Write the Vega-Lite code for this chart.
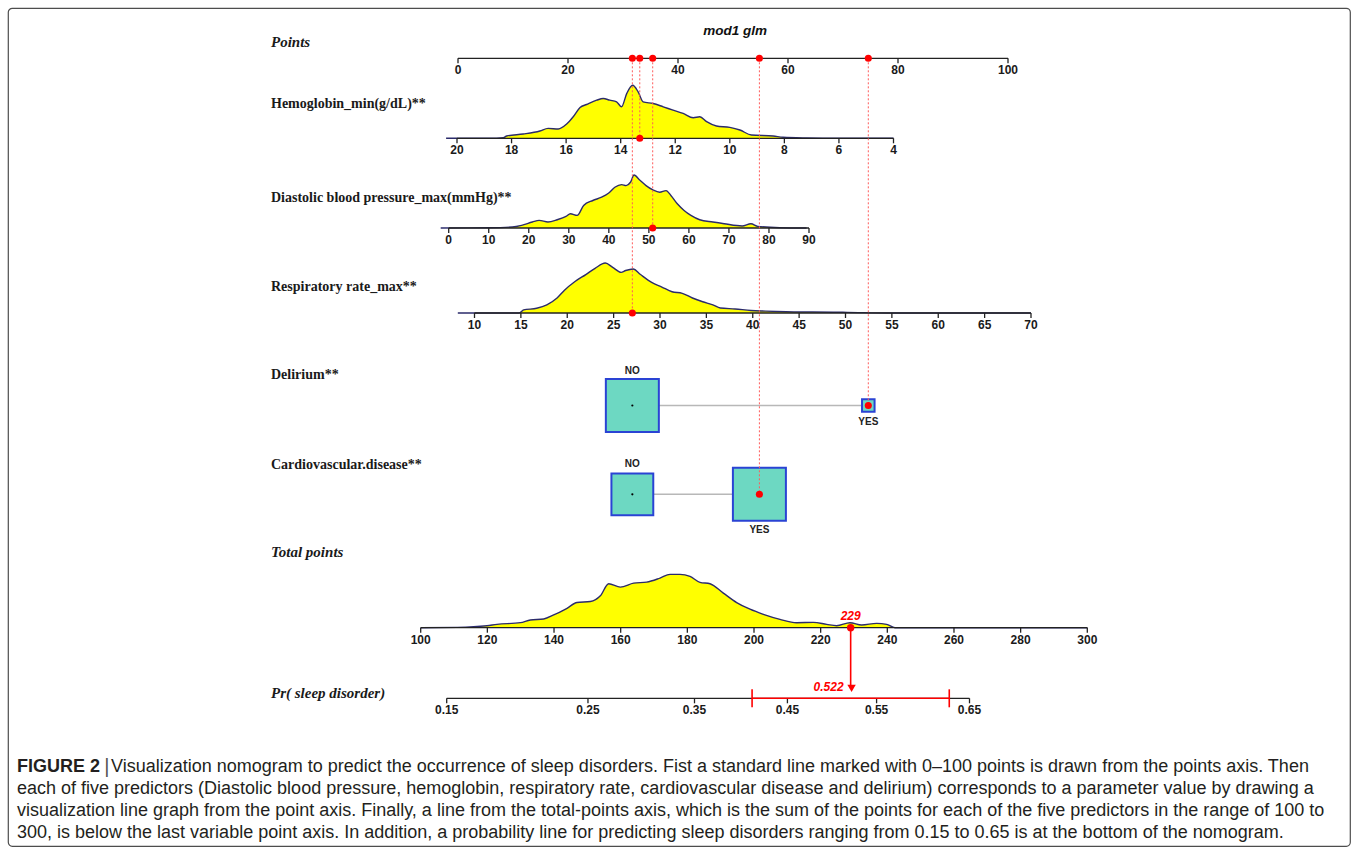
{
"width":1342,"height":838,"autosize":"none",
"padding":{"left":8,"top":8,"right":8,"bottom":9},
"background":"#ffffff",
"config":{"view":{"stroke":"#4d4d4d","strokeWidth":1.2,"cornerRadius":4}},
"datasets":{
"hbDens":[{"v":20.4,"d":0},{"v":18.8,"d":0},{"v":18.3,"d":0.01},{"v":18.18,"d":0.044},{"v":17.57,"d":0.081},{"v":16.96,"d":0.138},{"v":16.66,"d":0.188},{"v":16.29,"d":0.175},{"v":15.98,"d":0.269},{"v":15.74,"d":0.406},{"v":15.49,"d":0.581},{"v":15.25,"d":0.638},{"v":14.88,"d":0.719},{"v":14.64,"d":0.75},{"v":14.4,"d":0.719},{"v":14.15,"d":0.688},{"v":13.97,"d":0.594},{"v":13.78,"d":0.844},{"v":13.56,"d":1},{"v":13.36,"d":0.875},{"v":13.18,"d":0.688},{"v":12.81,"d":0.656},{"v":12.44,"d":0.594},{"v":12.08,"d":0.531},{"v":11.71,"d":0.469},{"v":11.34,"d":0.388},{"v":11.1,"d":0.406},{"v":10.85,"d":0.313},{"v":10.49,"d":0.231},{"v":10,"d":0.206},{"v":9.63,"d":0.156},{"v":9.21,"d":0.063},{"v":8.41,"d":0.044},{"v":8.05,"d":0.019},{"v":7.19,"d":0.006},{"v":6,"d":0},{"v":4,"d":0}],
"dbpDens":[{"v":-2,"d":0},{"v":10,"d":0.005},{"v":15.9,"d":0.019},{"v":18.2,"d":0.05},{"v":20.9,"d":0.113},{"v":22.6,"d":0.144},{"v":24.8,"d":0.113},{"v":27.1,"d":0.156},{"v":29.3,"d":0.219},{"v":30.4,"d":0.269},{"v":32.1,"d":0.238},{"v":33.7,"d":0.425},{"v":36,"d":0.519},{"v":38.2,"d":0.581},{"v":39.9,"d":0.656},{"v":41.5,"d":0.769},{"v":43.2,"d":0.819},{"v":44.3,"d":0.8},{"v":45.4,"d":0.863},{"v":46.3,"d":1},{"v":47.7,"d":0.906},{"v":49.3,"d":0.8},{"v":51,"d":0.719},{"v":52.7,"d":0.675},{"v":54.3,"d":0.706},{"v":55.5,"d":0.613},{"v":57.1,"d":0.456},{"v":58.8,"d":0.331},{"v":60.5,"d":0.238},{"v":62.7,"d":0.156},{"v":66,"d":0.113},{"v":68.8,"d":0.081},{"v":73.3,"d":0.038},{"v":75.5,"d":0.081},{"v":77.2,"d":0.031},{"v":82.7,"d":0.006},{"v":89.4,"d":0}],
"rrDens":[{"v":8.2,"d":0},{"v":14.8,"d":0},{"v":15.3,"d":0.063},{"v":16.7,"d":0.094},{"v":17.8,"d":0.163},{"v":18.9,"d":0.3},{"v":19.7,"d":0.456},{"v":20.8,"d":0.625},{"v":22,"d":0.769},{"v":23,"d":0.894},{"v":24.1,"d":1},{"v":24.9,"d":0.913},{"v":25.8,"d":0.813},{"v":26.3,"d":0.85},{"v":27.1,"d":0.881},{"v":27.9,"d":0.769},{"v":29.1,"d":0.613},{"v":30.2,"d":0.519},{"v":31.3,"d":0.425},{"v":32.4,"d":0.394},{"v":33.5,"d":0.3},{"v":34.6,"d":0.225},{"v":35.7,"d":0.163},{"v":36.5,"d":0.1},{"v":38.1,"d":0.081},{"v":39.8,"d":0.05},{"v":41.4,"d":0.038},{"v":43.6,"d":0.025},{"v":46.4,"d":0.019},{"v":50.2,"d":0.013},{"v":54.6,"d":0},{"v":70,"d":0}],
"totDens":[{"v":100,"d":0},{"v":111,"d":0.006},{"v":119.9,"d":0.037},{"v":122.9,"d":0.062},{"v":129.9,"d":0.093},{"v":132.9,"d":0.143},{"v":136.9,"d":0.161},{"v":139.9,"d":0.236},{"v":143.9,"d":0.36},{"v":146.9,"d":0.466},{"v":150.9,"d":0.484},{"v":153.9,"d":0.59},{"v":156.4,"d":0.814},{"v":159.9,"d":0.752},{"v":163.9,"d":0.826},{"v":167.8,"d":0.845},{"v":171.8,"d":0.919},{"v":174.8,"d":0.988},{"v":177.8,"d":0.988},{"v":180.8,"d":0.95},{"v":183.8,"d":0.839},{"v":186.8,"d":0.814},{"v":190.8,"d":0.64},{"v":194.8,"d":0.466},{"v":198.8,"d":0.342},{"v":202.8,"d":0.248},{"v":207.8,"d":0.155},{"v":212.8,"d":0.093},{"v":217.8,"d":0.099},{"v":221.8,"d":0.062},{"v":224.8,"d":0.037},{"v":228.8,"d":0.093},{"v":232.3,"d":0.05},{"v":236.8,"d":0.081},{"v":239.8,"d":0.062},{"v":242.3,"d":0},{"v":300,"d":0}],
"ticks":[
{"axis":"pts","v":0,"t":"0"},{"axis":"pts","v":20,"t":"20"},{"axis":"pts","v":40,"t":"40"},{"axis":"pts","v":60,"t":"60"},{"axis":"pts","v":80,"t":"80"},{"axis":"pts","v":100,"t":"100"},
{"axis":"hb","v":20,"t":"20"},{"axis":"hb","v":18,"t":"18"},{"axis":"hb","v":16,"t":"16"},{"axis":"hb","v":14,"t":"14"},{"axis":"hb","v":12,"t":"12"},{"axis":"hb","v":10,"t":"10"},{"axis":"hb","v":8,"t":"8"},{"axis":"hb","v":6,"t":"6"},{"axis":"hb","v":4,"t":"4"},
{"axis":"dbp","v":0,"t":"0"},{"axis":"dbp","v":10,"t":"10"},{"axis":"dbp","v":20,"t":"20"},{"axis":"dbp","v":30,"t":"30"},{"axis":"dbp","v":40,"t":"40"},{"axis":"dbp","v":50,"t":"50"},{"axis":"dbp","v":60,"t":"60"},{"axis":"dbp","v":70,"t":"70"},{"axis":"dbp","v":80,"t":"80"},{"axis":"dbp","v":90,"t":"90"},
{"axis":"rr","v":10,"t":"10"},{"axis":"rr","v":15,"t":"15"},{"axis":"rr","v":20,"t":"20"},{"axis":"rr","v":25,"t":"25"},{"axis":"rr","v":30,"t":"30"},{"axis":"rr","v":35,"t":"35"},{"axis":"rr","v":40,"t":"40"},{"axis":"rr","v":45,"t":"45"},{"axis":"rr","v":50,"t":"50"},{"axis":"rr","v":55,"t":"55"},{"axis":"rr","v":60,"t":"60"},{"axis":"rr","v":65,"t":"65"},{"axis":"rr","v":70,"t":"70"},
{"axis":"tot","v":100,"t":"100"},{"axis":"tot","v":120,"t":"120"},{"axis":"tot","v":140,"t":"140"},{"axis":"tot","v":160,"t":"160"},{"axis":"tot","v":180,"t":"180"},{"axis":"tot","v":200,"t":"200"},{"axis":"tot","v":220,"t":"220"},{"axis":"tot","v":240,"t":"240"},{"axis":"tot","v":260,"t":"260"},{"axis":"tot","v":280,"t":"280"},{"axis":"tot","v":300,"t":"300"},
{"axis":"prob","v":-1.7346,"t":"0.15"},{"axis":"prob","v":-1.0986,"t":"0.25"},{"axis":"prob","v":-0.619,"t":"0.35"},{"axis":"prob","v":-0.2007,"t":"0.45"},{"axis":"prob","v":0.2007,"t":"0.55"},{"axis":"prob","v":0.619,"t":"0.65"}],
"axlines":[{"axis":"pts","v":0,"v2":100},{"axis":"hb","v":20,"v2":4},{"axis":"dbp","v":0,"v2":90},{"axis":"rr","v":10,"v2":70},{"axis":"tot","v":100,"v2":300},{"axis":"prob","v":-1.7346,"v2":0.619}],
"selected":[{"var":"Respiratory rate_max","value":"27","pts":31.7,"top":0,"row":3},{"var":"Hemoglobin_min","value":"13.3","pts":33.05,"top":0,"row":1},{"var":"Diastolic blood pressure_max","value":"51","pts":35.4,"top":0,"row":2},{"var":"Cardiovascular.disease","value":"YES","pts":54.8,"top":0,"row":5},{"var":"Delirium","value":"YES","pts":74.6,"top":0,"row":4}],
"categories":[{"var":"Delirium","level":"NO","pts":31.7,"row":4,"prop":0.947},{"var":"Delirium","level":"YES","pts":74.6,"row":4,"prop":0.053},{"var":"CVD","level":"NO","pts":31.7,"row":5,"prop":0.384},{"var":"CVD","level":"YES","pts":54.8,"row":5,"prop":0.616}],
"catlinks":[{"var":"Delirium","pts":31.7,"pts2":74.6,"row":4},{"var":"CVD","pts":31.7,"pts2":54.8,"row":5}],
"labels":[{"row":0,"t":"Points","s":"i"},{"row":1,"t":"Hemoglobin_min(g/dL)**","s":"b"},{"row":2,"t":"Diastolic blood pressure_max(mmHg)**","s":"b"},{"row":3,"t":"Respiratory rate_max**","s":"b"},{"row":4,"t":"Delirium**","s":"b"},{"row":5,"t":"Cardiovascular.disease**","s":"b"},{"row":6,"t":"Total points","s":"i"},{"row":7,"t":"Pr( sleep disorder)","s":"i"}],
"result":[{"total":229,"p":0.522,"logit":0.0881,"lo":-0.3598,"hi":0.5279,"from":6,"to":7}],
"ciEnds":[{"v":-0.3598,"row":7},{"v":0.5279,"row":7}],
"caption":[{"line":0,"k":"bold","t":"FIGURE 2"},{"line":0,"k":"bar","t":"|"},{"line":0,"k":"first","t":"Visualization nomogram to predict the occurrence of sleep disorders. Fist a standard line marked with 0–100 points is drawn from the points axis. Then"},{"line":1,"k":"body","t":"each of five predictors (Diastolic blood pressure, hemoglobin, respiratory rate, cardiovascular disease and delirium) corresponds to a parameter value by drawing a"},{"line":2,"k":"body","t":"visualization line graph from the point axis. Finally, a line from the total-points axis, which is the sum of the points for each of the five predictors in the range of 100 to"},{"line":3,"k":"body","t":"300, is below the last variable point axis. In addition, a probability line for predicting sleep disorders ranging from 0.15 to 0.65 is at the bottom of the nomogram."}]
},
"resolve":{"scale":{"x":"independent","y":"independent","size":"independent"}},
"layer":[
{"data":{"name":"hbDens"},
 "layer":[
  {"mark":{"type":"area","color":"#FFFF00","opacity":1,"interpolate":"monotone"},"encoding":{"x":{"field":"v","type":"quantitative","scale":{"domain":[20,4],"range":[449,885.5]},"axis":null},"y":{"field":"d","type":"quantitative","stack":null,"scale":{"domain":[0,1],"range":[130.3,77.3]},"axis":null}}},
  {"mark":{"type":"line","color":"#2B2B6B","strokeWidth":1.4,"interpolate":"monotone"},"encoding":{"x":{"field":"v","type":"quantitative","scale":{"domain":[20,4],"range":[449,885.5]},"axis":null},"y":{"field":"d","type":"quantitative","scale":{"domain":[0,1],"range":[130.3,77.3]},"axis":null}}}]},
{"data":{"name":"dbpDens"},
 "layer":[
  {"mark":{"type":"area","color":"#FFFF00","opacity":1,"interpolate":"monotone"},"encoding":{"x":{"field":"v","type":"quantitative","scale":{"domain":[0,90],"range":[440.7,801]},"axis":null},"y":{"field":"d","type":"quantitative","stack":null,"scale":{"domain":[0,1],"range":[220,167]},"axis":null}}},
  {"mark":{"type":"line","color":"#2B2B6B","strokeWidth":1.4,"interpolate":"monotone"},"encoding":{"x":{"field":"v","type":"quantitative","scale":{"domain":[0,90],"range":[440.7,801]},"axis":null},"y":{"field":"d","type":"quantitative","scale":{"domain":[0,1],"range":[220,167]},"axis":null}}}]},
{"data":{"name":"rrDens"},
 "layer":[
  {"mark":{"type":"area","color":"#FFFF00","opacity":1,"interpolate":"monotone"},"encoding":{"x":{"field":"v","type":"quantitative","scale":{"domain":[10,70],"range":[466.5,1023]},"axis":null},"y":{"field":"d","type":"quantitative","stack":null,"scale":{"domain":[0,1],"range":[305,255]},"axis":null}}},
  {"mark":{"type":"line","color":"#2B2B6B","strokeWidth":1.4,"interpolate":"monotone"},"encoding":{"x":{"field":"v","type":"quantitative","scale":{"domain":[10,70],"range":[466.5,1023]},"axis":null},"y":{"field":"d","type":"quantitative","scale":{"domain":[0,1],"range":[305,255]},"axis":null}}}]},
{"data":{"name":"totDens"},
 "layer":[
  {"mark":{"type":"area","color":"#FFFF00","opacity":1,"interpolate":"monotone"},"encoding":{"x":{"field":"v","type":"quantitative","scale":{"domain":[100,300],"range":[412.7,1079.3]},"axis":null},"y":{"field":"d","type":"quantitative","stack":null,"scale":{"domain":[0,1],"range":[619.7,565.7]},"axis":null}}},
  {"mark":{"type":"line","color":"#2B2B6B","strokeWidth":1.4,"interpolate":"monotone"},"encoding":{"x":{"field":"v","type":"quantitative","scale":{"domain":[100,300],"range":[412.7,1079.3]},"axis":null},"y":{"field":"d","type":"quantitative","scale":{"domain":[0,1],"range":[619.7,565.7]},"axis":null}}}]},

{"data":{"name":"ticks"},"transform":[{"filter":"datum.axis==='pts'"}],
 "layer":[
  {"data":{"name":"axlines"},"transform":[{"filter":"datum.axis==='pts'"}],"mark":{"type":"rule","color":"#222222","strokeWidth":1.3},"encoding":{"x":{"field":"v","type":"quantitative","scale":{"domain":[0,100],"range":[450,1000]},"axis":null},"x2":{"field":"v2"},"y":{"datum":0,"type":"quantitative","scale":{"domain":[0,1,2,3,4,5,6,7],"range":[50.3,130.3,220,305,397.5,486.3,619.7,690.3]},"axis":null}}},
  {"mark":{"type":"tick","orient":"vertical","color":"#222222","thickness":1.3,"size":5,"yOffset":2.5,"opacity":1},"encoding":{"x":{"field":"v","type":"quantitative","scale":{"domain":[0,100],"range":[450,1000]},"axis":null},"y":{"datum":0,"type":"quantitative","scale":{"domain":[0,1,2,3,4,5,6,7],"range":[50.3,130.3,220,305,397.5,486.3,619.7,690.3]},"axis":null}}},
  {"mark":{"type":"text","font":"Liberation Sans","fontWeight":"bold","fontSize":12,"color":"#1a1a1a","dy":12,"baseline":"middle","align":"center"},"encoding":{"x":{"field":"v","type":"quantitative","scale":{"domain":[0,100],"range":[450,1000]},"axis":null},"y":{"datum":0,"type":"quantitative","scale":{"domain":[0,1,2,3,4,5,6,7],"range":[50.3,130.3,220,305,397.5,486.3,619.7,690.3]},"axis":null},"text":{"field":"t","type":"nominal"}}}
 ]},
{"data":{"name":"ticks"},"transform":[{"filter":"datum.axis==='hb'"}],
 "layer":[
  {"data":{"name":"axlines"},"transform":[{"filter":"datum.axis==='hb'"}],"mark":{"type":"rule","color":"#222222","strokeWidth":1.3},"encoding":{"x":{"field":"v","type":"quantitative","scale":{"domain":[20,4],"range":[449,885.5]},"axis":null},"x2":{"field":"v2"},"y":{"datum":1,"type":"quantitative","scale":{"domain":[0,1,2,3,4,5,6,7],"range":[50.3,130.3,220,305,397.5,486.3,619.7,690.3]},"axis":null}}},
  {"mark":{"type":"tick","orient":"vertical","color":"#222222","thickness":1.3,"size":5,"yOffset":2.5,"opacity":1},"encoding":{"x":{"field":"v","type":"quantitative","scale":{"domain":[20,4],"range":[449,885.5]},"axis":null},"y":{"datum":1,"type":"quantitative","scale":{"domain":[0,1,2,3,4,5,6,7],"range":[50.3,130.3,220,305,397.5,486.3,619.7,690.3]},"axis":null}}},
  {"mark":{"type":"text","font":"Liberation Sans","fontWeight":"bold","fontSize":12,"color":"#1a1a1a","dy":12,"baseline":"middle","align":"center"},"encoding":{"x":{"field":"v","type":"quantitative","scale":{"domain":[20,4],"range":[449,885.5]},"axis":null},"y":{"datum":1,"type":"quantitative","scale":{"domain":[0,1,2,3,4,5,6,7],"range":[50.3,130.3,220,305,397.5,486.3,619.7,690.3]},"axis":null},"text":{"field":"t","type":"nominal"}}}
 ]},
{"data":{"name":"ticks"},"transform":[{"filter":"datum.axis==='dbp'"}],
 "layer":[
  {"data":{"name":"axlines"},"transform":[{"filter":"datum.axis==='dbp'"}],"mark":{"type":"rule","color":"#222222","strokeWidth":1.3},"encoding":{"x":{"field":"v","type":"quantitative","scale":{"domain":[0,90],"range":[440.7,801]},"axis":null},"x2":{"field":"v2"},"y":{"datum":2,"type":"quantitative","scale":{"domain":[0,1,2,3,4,5,6,7],"range":[50.3,130.3,220,305,397.5,486.3,619.7,690.3]},"axis":null}}},
  {"mark":{"type":"tick","orient":"vertical","color":"#222222","thickness":1.3,"size":5,"yOffset":2.5,"opacity":1},"encoding":{"x":{"field":"v","type":"quantitative","scale":{"domain":[0,90],"range":[440.7,801]},"axis":null},"y":{"datum":2,"type":"quantitative","scale":{"domain":[0,1,2,3,4,5,6,7],"range":[50.3,130.3,220,305,397.5,486.3,619.7,690.3]},"axis":null}}},
  {"mark":{"type":"text","font":"Liberation Sans","fontWeight":"bold","fontSize":12,"color":"#1a1a1a","dy":12,"baseline":"middle","align":"center"},"encoding":{"x":{"field":"v","type":"quantitative","scale":{"domain":[0,90],"range":[440.7,801]},"axis":null},"y":{"datum":2,"type":"quantitative","scale":{"domain":[0,1,2,3,4,5,6,7],"range":[50.3,130.3,220,305,397.5,486.3,619.7,690.3]},"axis":null},"text":{"field":"t","type":"nominal"}}}
 ]},
{"data":{"name":"ticks"},"transform":[{"filter":"datum.axis==='rr'"}],
 "layer":[
  {"data":{"name":"axlines"},"transform":[{"filter":"datum.axis==='rr'"}],"mark":{"type":"rule","color":"#222222","strokeWidth":1.3},"encoding":{"x":{"field":"v","type":"quantitative","scale":{"domain":[10,70],"range":[466.5,1023]},"axis":null},"x2":{"field":"v2"},"y":{"datum":3,"type":"quantitative","scale":{"domain":[0,1,2,3,4,5,6,7],"range":[50.3,130.3,220,305,397.5,486.3,619.7,690.3]},"axis":null}}},
  {"mark":{"type":"tick","orient":"vertical","color":"#222222","thickness":1.3,"size":5,"yOffset":2.5,"opacity":1},"encoding":{"x":{"field":"v","type":"quantitative","scale":{"domain":[10,70],"range":[466.5,1023]},"axis":null},"y":{"datum":3,"type":"quantitative","scale":{"domain":[0,1,2,3,4,5,6,7],"range":[50.3,130.3,220,305,397.5,486.3,619.7,690.3]},"axis":null}}},
  {"mark":{"type":"text","font":"Liberation Sans","fontWeight":"bold","fontSize":12,"color":"#1a1a1a","dy":12,"baseline":"middle","align":"center"},"encoding":{"x":{"field":"v","type":"quantitative","scale":{"domain":[10,70],"range":[466.5,1023]},"axis":null},"y":{"datum":3,"type":"quantitative","scale":{"domain":[0,1,2,3,4,5,6,7],"range":[50.3,130.3,220,305,397.5,486.3,619.7,690.3]},"axis":null},"text":{"field":"t","type":"nominal"}}}
 ]},
{"data":{"name":"ticks"},"transform":[{"filter":"datum.axis==='tot'"}],
 "layer":[
  {"data":{"name":"axlines"},"transform":[{"filter":"datum.axis==='tot'"}],"mark":{"type":"rule","color":"#222222","strokeWidth":1.3},"encoding":{"x":{"field":"v","type":"quantitative","scale":{"domain":[100,300],"range":[412.7,1079.3]},"axis":null},"x2":{"field":"v2"},"y":{"datum":6,"type":"quantitative","scale":{"domain":[0,1,2,3,4,5,6,7],"range":[50.3,130.3,220,305,397.5,486.3,619.7,690.3]},"axis":null}}},
  {"mark":{"type":"tick","orient":"vertical","color":"#222222","thickness":1.3,"size":5,"yOffset":2.5,"opacity":1},"encoding":{"x":{"field":"v","type":"quantitative","scale":{"domain":[100,300],"range":[412.7,1079.3]},"axis":null},"y":{"datum":6,"type":"quantitative","scale":{"domain":[0,1,2,3,4,5,6,7],"range":[50.3,130.3,220,305,397.5,486.3,619.7,690.3]},"axis":null}}},
  {"mark":{"type":"text","font":"Liberation Sans","fontWeight":"bold","fontSize":12,"color":"#1a1a1a","dy":12,"baseline":"middle","align":"center"},"encoding":{"x":{"field":"v","type":"quantitative","scale":{"domain":[100,300],"range":[412.7,1079.3]},"axis":null},"y":{"datum":6,"type":"quantitative","scale":{"domain":[0,1,2,3,4,5,6,7],"range":[50.3,130.3,220,305,397.5,486.3,619.7,690.3]},"axis":null},"text":{"field":"t","type":"nominal"}}}
 ]},
{"data":{"name":"ticks"},"transform":[{"filter":"datum.axis==='prob'"}],
 "layer":[
  {"data":{"name":"axlines"},"transform":[{"filter":"datum.axis==='prob'"}],"mark":{"type":"rule","color":"#222222","strokeWidth":1.3},"encoding":{"x":{"field":"v","type":"quantitative","scale":{"domain":[-1.7346,0.619],"range":[438.7,961.5]},"axis":null},"x2":{"field":"v2"},"y":{"datum":7,"type":"quantitative","scale":{"domain":[0,1,2,3,4,5,6,7],"range":[50.3,130.3,220,305,397.5,486.3,619.7,690.3]},"axis":null}}},
  {"mark":{"type":"tick","orient":"vertical","color":"#222222","thickness":1.3,"size":5,"yOffset":2.5,"opacity":1},"encoding":{"x":{"field":"v","type":"quantitative","scale":{"domain":[-1.7346,0.619],"range":[438.7,961.5]},"axis":null},"y":{"datum":7,"type":"quantitative","scale":{"domain":[0,1,2,3,4,5,6,7],"range":[50.3,130.3,220,305,397.5,486.3,619.7,690.3]},"axis":null}}},
  {"mark":{"type":"text","font":"Liberation Sans","fontWeight":"bold","fontSize":12,"color":"#1a1a1a","dy":12,"baseline":"middle","align":"center"},"encoding":{"x":{"field":"v","type":"quantitative","scale":{"domain":[-1.7346,0.619],"range":[438.7,961.5]},"axis":null},"y":{"datum":7,"type":"quantitative","scale":{"domain":[0,1,2,3,4,5,6,7],"range":[50.3,130.3,220,305,397.5,486.3,619.7,690.3]},"axis":null},"text":{"field":"t","type":"nominal"}}}
 ]},

{"data":{"name":"categories"},
 "resolve":{"scale":{"size":"independent"}},
 "layer":[
  {"data":{"name":"catlinks"},"mark":{"type":"rule","color":"#B8B8B8","strokeWidth":1.5},"encoding":{"x":{"field":"pts","type":"quantitative","scale":{"domain":[0,100],"range":[450,1000]},"axis":null},"x2":{"field":"pts2"},"y":{"field":"row","type":"quantitative","scale":{"domain":[0,1,2,3,4,5,6,7],"range":[50.3,130.3,220,305,397.5,486.3,619.7,690.3]},"axis":null}}},
  {"transform":[{"filter":"datum.var==='Delirium'"}],"mark":{"type":"square","filled":true,"fill":"#6DD8C2","stroke":"#2A43D4","strokeWidth":2,"opacity":1},"encoding":{"x":{"field":"pts","type":"quantitative","scale":{"domain":[0,100],"range":[450,1000]},"axis":null},"y":{"field":"row","type":"quantitative","scale":{"domain":[0,1,2,3,4,5,6,7],"range":[50.3,130.3,220,305,397.5,486.3,619.7,690.3]},"axis":null},"size":{"field":"prop","type":"quantitative","scale":{"domain":[0,0.947],"range":[0,2809]},"legend":null}}},
  {"transform":[{"filter":"datum.var==='CVD'"}],"mark":{"type":"square","filled":true,"fill":"#6DD8C2","stroke":"#2A43D4","strokeWidth":2,"opacity":1},"encoding":{"x":{"field":"pts","type":"quantitative","scale":{"domain":[0,100],"range":[450,1000]},"axis":null},"y":{"field":"row","type":"quantitative","scale":{"domain":[0,1,2,3,4,5,6,7],"range":[50.3,130.3,220,305,397.5,486.3,619.7,690.3]},"axis":null},"size":{"field":"prop","type":"quantitative","scale":{"domain":[0,0.616],"range":[0,2809]},"legend":null}}},
  {"transform":[{"filter":"datum.level==='NO'"}],"mark":{"type":"point","filled":true,"color":"#000000","size":5,"opacity":1},"encoding":{"x":{"field":"pts","type":"quantitative","scale":{"domain":[0,100],"range":[450,1000]},"axis":null},"y":{"field":"row","type":"quantitative","scale":{"domain":[0,1,2,3,4,5,6,7],"range":[50.3,130.3,220,305,397.5,486.3,619.7,690.3]},"axis":null}}},
  {"transform":[{"filter":"datum.var==='Delirium' && datum.level==='NO'"}],"mark":{"type":"text","font":"Liberation Sans","fontWeight":"bold","fontSize":10,"color":"#222222","dy":-35,"baseline":"middle"},"encoding":{"x":{"field":"pts","type":"quantitative","scale":{"domain":[0,100],"range":[450,1000]},"axis":null},"y":{"field":"row","type":"quantitative","scale":{"domain":[0,1,2,3,4,5,6,7],"range":[50.3,130.3,220,305,397.5,486.3,619.7,690.3]},"axis":null},"text":{"field":"level","type":"nominal"}}},
  {"transform":[{"filter":"datum.var==='Delirium' && datum.level==='YES'"}],"mark":{"type":"text","font":"Liberation Sans","fontWeight":"bold","fontSize":10,"color":"#222222","dy":16,"baseline":"middle"},"encoding":{"x":{"field":"pts","type":"quantitative","scale":{"domain":[0,100],"range":[450,1000]},"axis":null},"y":{"field":"row","type":"quantitative","scale":{"domain":[0,1,2,3,4,5,6,7],"range":[50.3,130.3,220,305,397.5,486.3,619.7,690.3]},"axis":null},"text":{"field":"level","type":"nominal"}}},
  {"transform":[{"filter":"datum.var==='CVD' && datum.level==='NO'"}],"mark":{"type":"text","font":"Liberation Sans","fontWeight":"bold","fontSize":10,"color":"#222222","dy":-30,"baseline":"middle"},"encoding":{"x":{"field":"pts","type":"quantitative","scale":{"domain":[0,100],"range":[450,1000]},"axis":null},"y":{"field":"row","type":"quantitative","scale":{"domain":[0,1,2,3,4,5,6,7],"range":[50.3,130.3,220,305,397.5,486.3,619.7,690.3]},"axis":null},"text":{"field":"level","type":"nominal"}}},
  {"transform":[{"filter":"datum.var==='CVD' && datum.level==='YES'"}],"mark":{"type":"text","font":"Liberation Sans","fontWeight":"bold","fontSize":10,"color":"#222222","dy":36,"baseline":"middle"},"encoding":{"x":{"field":"pts","type":"quantitative","scale":{"domain":[0,100],"range":[450,1000]},"axis":null},"y":{"field":"row","type":"quantitative","scale":{"domain":[0,1,2,3,4,5,6,7],"range":[50.3,130.3,220,305,397.5,486.3,619.7,690.3]},"axis":null},"text":{"field":"level","type":"nominal"}}}
 ]},

{"data":{"name":"selected"},
 "layer":[
  {"mark":{"type":"rule","color":"#FF5A5A","strokeWidth":1,"strokeDash":[2,2]},"encoding":{"x":{"field":"pts","type":"quantitative","scale":{"domain":[0,100],"range":[450,1000]},"axis":null},"y":{"field":"top","type":"quantitative","scale":{"domain":[0,1,2,3,4,5,6,7],"range":[50.3,130.3,220,305,397.5,486.3,619.7,690.3]},"axis":null},"y2":{"field":"row"}}},
  {"mark":{"type":"point","filled":true,"color":"#FF0000","size":50,"opacity":1},"encoding":{"x":{"field":"pts","type":"quantitative","scale":{"domain":[0,100],"range":[450,1000]},"axis":null},"y":{"field":"top","type":"quantitative","scale":{"domain":[0,1,2,3,4,5,6,7],"range":[50.3,130.3,220,305,397.5,486.3,619.7,690.3]},"axis":null}}},
  {"mark":{"type":"point","filled":true,"color":"#FF0000","size":50,"opacity":1},"encoding":{"x":{"field":"pts","type":"quantitative","scale":{"domain":[0,100],"range":[450,1000]},"axis":null},"y":{"field":"row","type":"quantitative","scale":{"domain":[0,1,2,3,4,5,6,7],"range":[50.3,130.3,220,305,397.5,486.3,619.7,690.3]},"axis":null}}},
  {"data":{"values":[{"t":"mod1 glm","row":0}]},"mark":{"type":"text","font":"Liberation Sans","fontWeight":"bold","fontStyle":"italic","fontSize":13.5,"color":"#111111","dy":-27,"baseline":"middle","align":"center"},"encoding":{"x":{"datum":50.4,"type":"quantitative","scale":{"domain":[0,100],"range":[450,1000]},"axis":null},"y":{"field":"row","type":"quantitative","scale":{"domain":[0,1,2,3,4,5,6,7],"range":[50.3,130.3,220,305,397.5,486.3,619.7,690.3]},"axis":null},"text":{"field":"t","type":"nominal"}}}
 ]},

{"data":{"name":"result"},
 "layer":[
  {"mark":{"type":"rule","color":"#FF0000","strokeWidth":1.6,"y2Offset":-13},"encoding":{"x":{"field":"total","type":"quantitative","scale":{"domain":[100,300],"range":[412.7,1079.3]},"axis":null},"y":{"field":"from","type":"quantitative","scale":{"domain":[0,1,2,3,4,5,6,7],"range":[50.3,130.3,220,305,397.5,486.3,619.7,690.3]},"axis":null},"y2":{"field":"to"}}},
  {"mark":{"type":"point","filled":true,"color":"#FF0000","size":55,"opacity":1},"encoding":{"x":{"field":"total","type":"quantitative","scale":{"domain":[100,300],"range":[412.7,1079.3]},"axis":null},"y":{"field":"from","type":"quantitative","scale":{"domain":[0,1,2,3,4,5,6,7],"range":[50.3,130.3,220,305,397.5,486.3,619.7,690.3]},"axis":null}}},
  {"mark":{"type":"text","font":"Liberation Sans","fontWeight":"bold","fontStyle":"italic","fontSize":12,"color":"#FF0000","dy":-12,"baseline":"middle","align":"center"},"encoding":{"x":{"field":"total","type":"quantitative","scale":{"domain":[100,300],"range":[412.7,1079.3]},"axis":null},"y":{"field":"from","type":"quantitative","scale":{"domain":[0,1,2,3,4,5,6,7],"range":[50.3,130.3,220,305,397.5,486.3,619.7,690.3]},"axis":null},"text":{"field":"total","type":"nominal"}}}
 ]},

{"data":{"name":"result"},
 "layer":[
  {"mark":{"type":"rule","color":"#FF0000","strokeWidth":1.6},"encoding":{"x":{"field":"lo","type":"quantitative","scale":{"domain":[-1.7346,0.619],"range":[438.7,961.5]},"axis":null},"x2":{"field":"hi"},"y":{"field":"to","type":"quantitative","scale":{"domain":[0,1,2,3,4,5,6,7],"range":[50.3,130.3,220,305,397.5,486.3,619.7,690.3]},"axis":null}}},
  {"data":{"name":"ciEnds"},"mark":{"type":"tick","orient":"vertical","color":"#FF0000","thickness":1.6,"size":18,"opacity":1},"encoding":{"x":{"field":"v","type":"quantitative","scale":{"domain":[-1.7346,0.619],"range":[438.7,961.5]},"axis":null},"y":{"field":"row","type":"quantitative","scale":{"domain":[0,1,2,3,4,5,6,7],"range":[50.3,130.3,220,305,397.5,486.3,619.7,690.3]},"axis":null}}},
  {"mark":{"type":"point","shape":"triangle-down","filled":true,"color":"#FF0000","size":70,"opacity":1,"yOffset":-10},"encoding":{"x":{"field":"logit","type":"quantitative","scale":{"domain":[-1.7346,0.619],"range":[438.7,961.5]},"axis":null},"y":{"field":"to","type":"quantitative","scale":{"domain":[0,1,2,3,4,5,6,7],"range":[50.3,130.3,220,305,397.5,486.3,619.7,690.3]},"axis":null}}},
  {"mark":{"type":"text","font":"Liberation Sans","fontWeight":"bold","fontStyle":"italic","fontSize":12,"color":"#FF0000","dx":-8,"dy":-11,"baseline":"middle","align":"right"},"encoding":{"x":{"field":"logit","type":"quantitative","scale":{"domain":[-1.7346,0.619],"range":[438.7,961.5]},"axis":null},"y":{"field":"to","type":"quantitative","scale":{"domain":[0,1,2,3,4,5,6,7],"range":[50.3,130.3,220,305,397.5,486.3,619.7,690.3]},"axis":null},"text":{"field":"p","type":"nominal"}}}
 ]},

{"data":{"name":"labels"},
 "layer":[
  {"transform":[{"filter":"datum.s==='b'"}],"mark":{"type":"text","font":"Liberation Serif","fontWeight":"bold","fontSize":14,"color":"#1a1a1a","align":"left","baseline":"middle"},"encoding":{"x":{"datum":-34,"type":"quantitative","scale":{"domain":[0,100],"range":[450,1000]},"axis":null},"y":{"field":"row","type":"quantitative","scale":{"domain":[0,1,2,3,4,5,6,7],"range":[34.3,96,190.3,279,367,457,544,685]},"axis":null},"text":{"field":"t","type":"nominal"}}},
  {"transform":[{"filter":"datum.s==='i'"}],"mark":{"type":"text","font":"Liberation Serif","fontWeight":"bold","fontStyle":"italic","fontSize":15,"color":"#1a1a1a","align":"left","baseline":"middle"},"encoding":{"x":{"datum":-34,"type":"quantitative","scale":{"domain":[0,100],"range":[450,1000]},"axis":null},"y":{"field":"row","type":"quantitative","scale":{"domain":[0,1,2,3,4,5,6,7],"range":[34.3,96,190.3,279,367,457,544,685]},"axis":null},"text":{"field":"t","type":"nominal"}}}
 ]},

{"data":{"name":"caption"},
 "layer":[
  {"transform":[{"filter":"datum.k==='bold'"}],"mark":{"type":"text","font":"Liberation Sans","fontWeight":"bold","fontSize":18,"color":"#231F20","align":"left","baseline":"middle"},"encoding":{"x":{"datum":-80.18,"type":"quantitative","scale":{"domain":[0,100],"range":[450,1000]},"axis":null},"y":{"field":"line","type":"quantitative","scale":{"domain":[0,3],"range":[759,825]},"axis":null},"text":{"field":"t","type":"nominal"}}},
  {"transform":[{"filter":"datum.k==='bar'"}],"mark":{"type":"text","font":"Liberation Sans","fontSize":20,"color":"#555555","align":"left","baseline":"middle"},"encoding":{"x":{"datum":-64.3,"type":"quantitative","scale":{"domain":[0,100],"range":[450,1000]},"axis":null},"y":{"field":"line","type":"quantitative","scale":{"domain":[0,3],"range":[759,825]},"axis":null},"text":{"field":"t","type":"nominal"}}},
  {"transform":[{"filter":"datum.k==='first'"}],"mark":{"type":"text","font":"Liberation Sans","fontSize":18,"color":"#231F20","align":"left","baseline":"middle"},"encoding":{"x":{"datum":-63.1,"type":"quantitative","scale":{"domain":[0,100],"range":[450,1000]},"axis":null},"y":{"field":"line","type":"quantitative","scale":{"domain":[0,3],"range":[759,825]},"axis":null},"text":{"field":"t","type":"nominal"}}},
  {"transform":[{"filter":"datum.k==='body'"}],"mark":{"type":"text","font":"Liberation Sans","fontSize":18,"color":"#231F20","align":"left","baseline":"middle"},"encoding":{"x":{"datum":-80.18,"type":"quantitative","scale":{"domain":[0,100],"range":[450,1000]},"axis":null},"y":{"field":"line","type":"quantitative","scale":{"domain":[0,3],"range":[759,825]},"axis":null},"text":{"field":"t","type":"nominal"}}}
 ]}
]
}
